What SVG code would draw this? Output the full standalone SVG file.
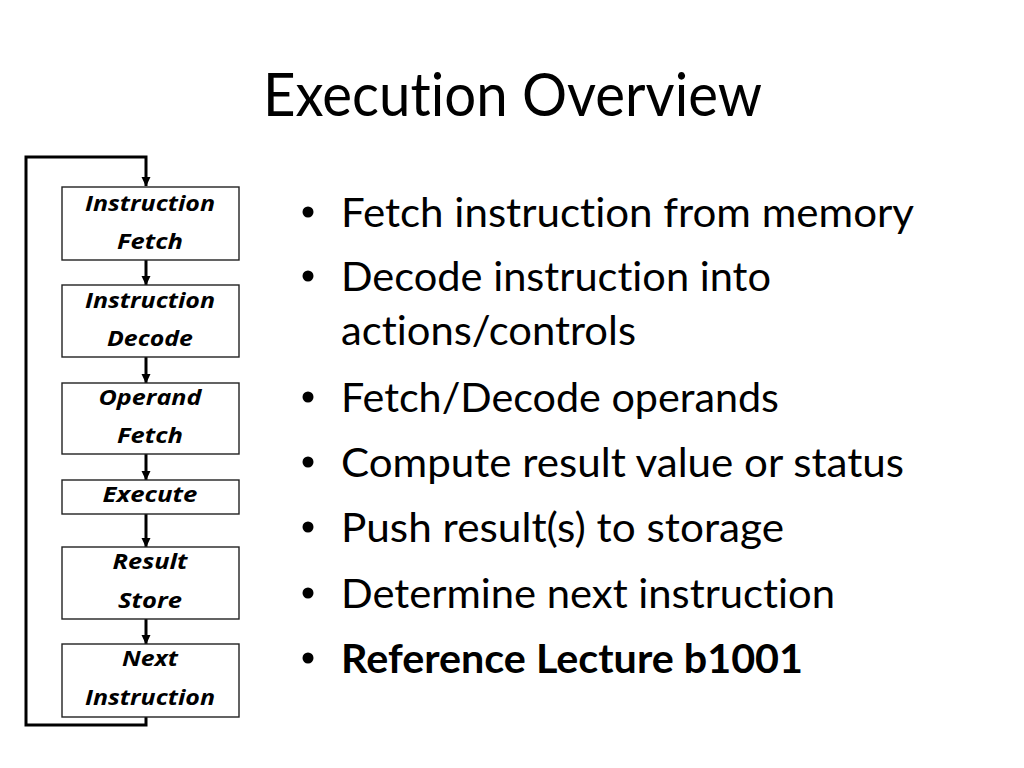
<svg xmlns="http://www.w3.org/2000/svg" width="1024" height="768" viewBox="0 0 1024 768">
<defs>
<marker id="ah" markerUnits="userSpaceOnUse" markerWidth="10" markerHeight="10" refX="9" refY="5" orient="auto" viewBox="0 0 10 10">
<path d="M0,0.5 L9.5,5 L0,9.5 z" fill="#000"/>
</marker>
</defs>
<style>
.title{font-family:Lato,"Liberation Sans",sans-serif;font-size:60px;fill:#000;font-variant-ligatures:none}
.bul{font-family:Lato,"Liberation Sans",sans-serif;font-size:40px;fill:#000;font-variant-ligatures:none}
.dot{fill:#000}
.box{fill:#fff;stroke:#222;stroke-width:1.4}
.lbl{font-family:"Open Sans","DejaVu Sans",sans-serif;font-size:22px;font-weight:bold;font-style:italic;fill:#000;text-anchor:middle}
.con{fill:none;stroke:#000;stroke-width:3}
</style>
<rect width="1024" height="768" fill="#fff"/>
<text class="title" x="263" y="116" textLength="499" lengthAdjust="spacingAndGlyphs">Execution Overview</text>

<g id="bullets">
<circle class="dot" cx="308" cy="212" r="5.5"/>
<text class="bul" x="341" y="227" textLength="573" lengthAdjust="spacingAndGlyphs">Fetch instruction from memory</text>
<circle class="dot" cx="308" cy="276" r="5.5"/>
<text class="bul" x="341" y="291" textLength="430" lengthAdjust="spacingAndGlyphs">Decode instruction into</text>
<text class="bul" x="341" y="345" textLength="295" lengthAdjust="spacingAndGlyphs">actions/controls</text>
<circle class="dot" cx="308" cy="397" r="5.5"/>
<text class="bul" x="341" y="412" textLength="438" lengthAdjust="spacingAndGlyphs">Fetch/Decode operands</text>
<circle class="dot" cx="308" cy="462" r="5.5"/>
<text class="bul" x="341" y="477" textLength="563" lengthAdjust="spacingAndGlyphs">Compute result value or status</text>
<circle class="dot" cx="308" cy="527" r="5.5"/>
<text class="bul" x="341" y="542" textLength="443" lengthAdjust="spacingAndGlyphs">Push result(s) to storage</text>
<circle class="dot" cx="308" cy="593" r="5.5"/>
<text class="bul" x="341" y="608" textLength="494" lengthAdjust="spacingAndGlyphs">Determine next instruction</text>
<circle class="dot" cx="308" cy="658" r="5.5"/>
<text class="bul" x="341" y="673" font-weight="bold" textLength="462" lengthAdjust="spacingAndGlyphs">Reference Lecture b1001</text>
</g>

<g id="connectors">
<path class="con" d="M146 717 V725 H26 V157 H146 V186" marker-end="url(#ah)"/>
<line class="con" x1="146" y1="260" x2="146" y2="285" marker-end="url(#ah)"/>
<line class="con" x1="146" y1="357" x2="146" y2="383" marker-end="url(#ah)"/>
<line class="con" x1="146" y1="454" x2="146" y2="480" marker-end="url(#ah)"/>
<line class="con" x1="146" y1="514" x2="146" y2="547" marker-end="url(#ah)"/>
<line class="con" x1="146" y1="619" x2="146" y2="644" marker-end="url(#ah)"/>
</g>

<g id="instruction-fetch">
<rect class="box" x="62" y="187" width="177" height="73"/>
<text class="lbl" x="150" y="211" textLength="130" lengthAdjust="spacingAndGlyphs">Instruction</text>
<text class="lbl" x="150" y="249" textLength="66" lengthAdjust="spacingAndGlyphs">Fetch</text>
</g>
<g id="instruction-decode">
<rect class="box" x="62" y="285" width="177" height="72"/>
<text class="lbl" x="150" y="308" textLength="130" lengthAdjust="spacingAndGlyphs">Instruction</text>
<text class="lbl" x="150" y="346" textLength="86" lengthAdjust="spacingAndGlyphs">Decode</text>
</g>
<g id="operand-fetch">
<rect class="box" x="62" y="383" width="177" height="71"/>
<text class="lbl" x="150" y="405" textLength="103" lengthAdjust="spacingAndGlyphs">Operand</text>
<text class="lbl" x="150" y="443" textLength="66" lengthAdjust="spacingAndGlyphs">Fetch</text>
</g>
<g id="execute">
<rect class="box" x="62" y="480" width="177" height="34"/>
<text class="lbl" x="150" y="502" textLength="95" lengthAdjust="spacingAndGlyphs">Execute</text>
</g>
<g id="result-store">
<rect class="box" x="62" y="547" width="177" height="72"/>
<text class="lbl" x="150" y="569" textLength="75" lengthAdjust="spacingAndGlyphs">Result</text>
<text class="lbl" x="150" y="608" textLength="64" lengthAdjust="spacingAndGlyphs">Store</text>
</g>
<g id="next-instruction">
<rect class="box" x="62" y="644" width="177" height="73"/>
<text class="lbl" x="150" y="666" textLength="56" lengthAdjust="spacingAndGlyphs">Next</text>
<text class="lbl" x="150" y="705" textLength="130" lengthAdjust="spacingAndGlyphs">Instruction</text>
</g>
</svg>
